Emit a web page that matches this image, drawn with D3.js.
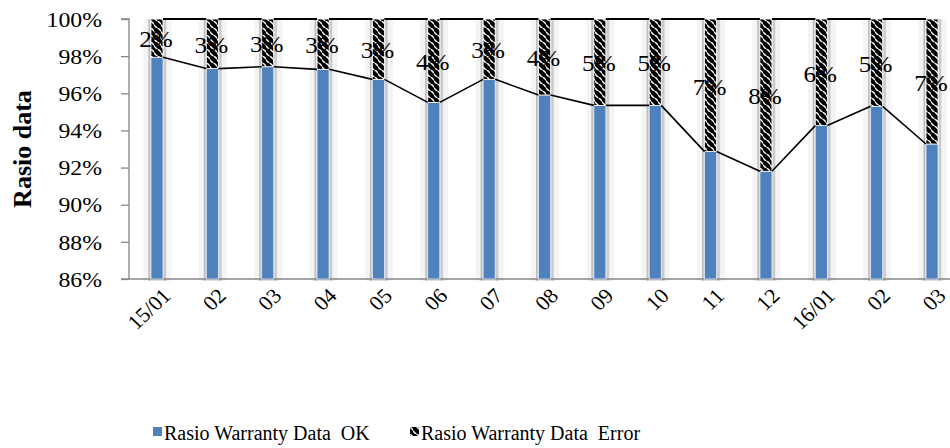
<!DOCTYPE html>
<html>
<head>
<meta charset="utf-8">
<script src="https://cdn.jsdelivr.net/npm/d3@7/dist/d3.min.js"></script>
<style>
  html, body { margin: 0; padding: 0; background: #fff; }
  svg { display: block; }
  text { font-family: "Liberation Serif", "Times New Roman", serif; fill: #000; }
</style>
</head>
<body>
<svg id="chart" width="950" height="448"></svg>
<script>
// Monthly warranty data quality (share of OK vs. error records)
const months = ["15/01", "02", "03", "04", "05", "06", "07", "08", "09", "10", "11", "12", "16/01", "02", "03"];
const okValues = [97.94, 97.33, 97.43, 97.29, 96.75, 95.51, 96.75, 95.91, 95.35, 95.35, 92.86, 91.80, 94.26, 95.30, 93.27];
const errorValues = [2.06, 2.67, 2.57, 2.71, 3.25, 4.49, 3.25, 4.09, 4.65, 4.65, 7.14, 8.20, 5.74, 4.70, 6.73];
const yTicks = [86, 88, 90, 92, 94, 96, 98, 100];
const seriesNames = ["Rasio Warranty Data  OK", "Rasio Warranty Data  Error"];

const svg = d3.select("#chart");
const plot = { left: 129, top: 19, bottom: 279, right: 959.4 };

const x = d3.scaleBand()
  .domain(d3.range(months.length))
  .range([plot.left, plot.right])
  .paddingInner(0)
  .paddingOuter(0);
const y = d3.scaleLinear().domain([86, 100]).range([plot.bottom, plot.top]);

const barW = 12;
const cx = i => x(i) + x.bandwidth() / 2 + 0.3;

// Diagonal hatch for the error segment
const defs = svg.append("defs");
const pat = defs.append("pattern")
  .attr("id", "hatch")
  .attr("patternUnits", "userSpaceOnUse")
  .attr("width", 7).attr("height", 7);
pat.append("rect").attr("width", 7).attr("height", 7).attr("fill", "#fff");
pat.append("path")
  .attr("d", "M0,0 L3,0 L7,4 L7,7 L4,7 L0,3 Z M5,0 L7,0 L7,2 Z M0,5 L2,7 L0,7 Z")
  .attr("fill", "#000");

// Soft shadow columns behind every bar
const shadow = svg.append("g");
const colH = plot.bottom - plot.top + 2;
months.forEach((m, i) => {
  const c = cx(i);
  shadow.append("rect").attr("x", c - 13.5).attr("y", plot.top)
    .attr("width", 28).attr("height", colH).attr("fill", "#f4f4f4");
  shadow.append("rect").attr("x", c - 8.5).attr("y", plot.top)
    .attr("width", 18).attr("height", colH).attr("fill", "#e0e0e0");
  shadow.append("rect").attr("x", c - 8.5).attr("y", plot.top)
    .attr("width", 1.5).attr("height", colH).attr("fill", "#bdbdbd");
  shadow.append("rect").attr("x", c + 7).attr("y", plot.top)
    .attr("width", 2).attr("height", colH).attr("fill", "#cacaca");
});

// Axes
const axisColor = "#868686";
const yAxis = svg.append("g").attr("transform", `translate(${plot.left},0)`)
  .call(d3.axisLeft(y).tickValues(yTicks).tickSize(8).tickFormat(d => d + "%"));
yAxis.select(".domain").attr("stroke", axisColor).attr("stroke-width", 1.3)
  .attr("d", `M-8,${plot.top}H0V${plot.bottom}`);
yAxis.selectAll(".tick line").attr("stroke", axisColor).attr("stroke-width", 1.3);
yAxis.selectAll(".tick text").remove();
yAxis.selectAll(".tick").append("text")
  .attr("text-anchor", "end")
  .attr("dominant-baseline", "central")
  .attr("transform", "translate(-27,0) scale(1.08,1)")
  .style("font-size", "22px")
  .text(d => d + "%");

svg.append("line")
  .attr("x1", plot.left - 8).attr("x2", 950)
  .attr("y1", plot.bottom).attr("y2", plot.bottom)
  .attr("stroke", axisColor).attr("stroke-width", 1.5);

// Stacked bars
const bars = svg.append("g");
bars.selectAll("rect.ok").data(okValues).join("rect")
  .attr("class", "ok")
  .attr("x", (d, i) => cx(i) - barW / 2)
  .attr("y", d => y(d))
  .attr("width", barW)
  .attr("height", d => y(86) - y(d))
  .attr("fill", "#4F81BD")
  .attr("stroke", "#dbe6f3").attr("stroke-width", 0.8);

bars.selectAll("rect.err").data(errorValues).join("rect")
  .attr("class", "err")
  .attr("x", (d, i) => cx(i) - barW / 2)
  .attr("y", (d, i) => y(okValues[i] + d))
  .attr("width", barW)
  .attr("height", (d, i) => y(okValues[i]) - y(okValues[i] + d))
  .attr("fill", "url(#hatch)")
  .attr("stroke", "#fff").attr("stroke-width", 0.8);

// Series lines joining the segment tops of neighbouring bars
const lines = svg.append("g").attr("stroke", "#000").attr("fill", "none");
d3.range(months.length - 1).forEach(i => {
  lines.append("line")
    .attr("x1", cx(i) + barW / 2).attr("x2", cx(i + 1) - barW / 2)
    .attr("y1", y(okValues[i])).attr("y2", y(okValues[i + 1]))
    .attr("stroke-width", 1.6);
  lines.append("line")
    .attr("x1", cx(i) + barW / 2).attr("x2", cx(i + 1) - barW / 2)
    .attr("y1", y(okValues[i] + errorValues[i])).attr("y2", y(okValues[i + 1] + errorValues[i + 1]))
    .attr("stroke-width", 2);
});

// Error share labels centred in each error segment
svg.append("g").selectAll("text").data(errorValues).join("text")
  .attr("text-anchor", "middle")
  .attr("dominant-baseline", "central")
  .attr("transform", (d, i) => `translate(${cx(i) - 1},${y(okValues[i] + d / 2) + 1}) scale(1.05,1)`)
  .style("font-size", "24px")
  .text(d => d3.format(".0f")(d) + "%");

// Month labels, slanted
svg.append("g").selectAll("text").data(months).join("text")
  .attr("text-anchor", "end")
  .attr("transform", (d, i) => `translate(${cx(i) + 15},${plot.bottom + 18}) scale(1.05,1) rotate(-45)`)
  .style("font-size", "21px")
  .text(d => d);

// Axis title
svg.append("text")
  .attr("text-anchor", "middle")
  .attr("transform", `translate(31,${(plot.top + plot.bottom) / 2}) rotate(-90)`)
  .style("font-size", "26px").style("font-weight", "bold")
  .text("Rasio data");

// Legend
const legend = svg.append("g");
const legendItems = [
  { x: 153, fill: "#4F81BD", name: seriesNames[0] },
  { x: 410, fill: "url(#hatch)", name: seriesNames[1] }
];
legendItems.forEach(it => {
  legend.append("rect").attr("x", it.x).attr("y", 427).attr("width", 9).attr("height", 9)
    .attr("fill", it.fill);
  legend.append("text")
    .attr("x", it.x + 11).attr("y", 440)
    .style("font-size", "20px").style("white-space", "pre")
    .attr("xml:space", "preserve")
    .text(it.name);
});
</script>
</body>
</html>
